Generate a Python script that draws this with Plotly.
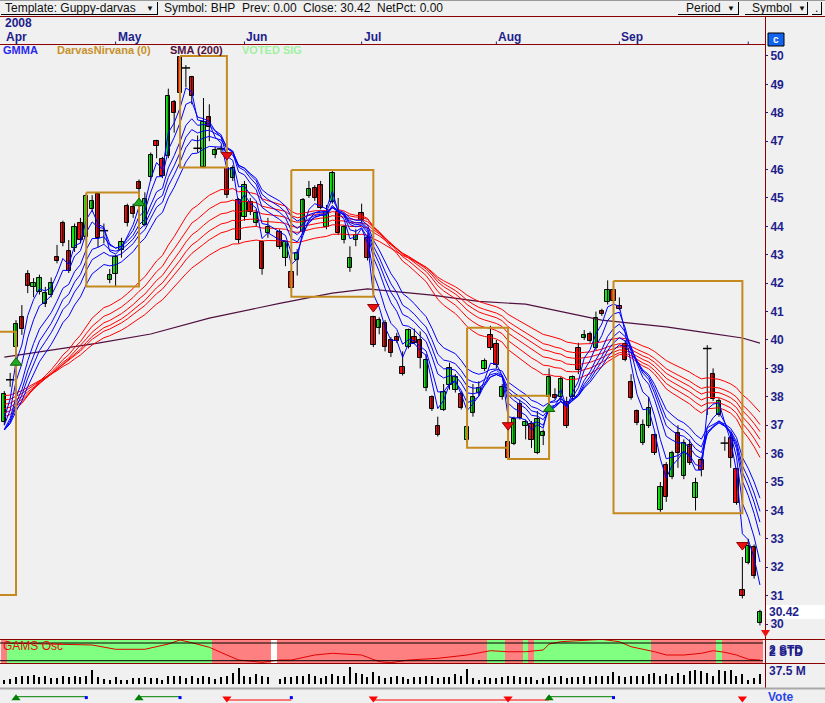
import plotly.graph_objects as go

# ---------------- DATA (daily bars, index 0..129; bar 46 is an empty day) ----------------
opens = [37.10, 38.60, 39.75, 40.80, 42.32, 41.87, 41.69, 41.27, 41.60, 42.92,
         44.12, 43.13, 43.24, 44.12, 43.63, 44.60, 45.14, 43.85, 42.11, 42.32,
         43.17, 44.72, 44.68, 45.56, 44.05, 45.74, 47.00, 46.37, 46.48, 48.38,
         49.96, 49.58, 49.26, 46.75, 46.09, 47.85, 46.51, 46.73, 46.05, 45.70,
         44.93, 44.33, 44.86, 44.12, 43.45, 43.77, None, 43.80, 42.89, 42.39,
         42.82, 43.80, 45.07, 45.35, 45.46, 43.98, 44.86, 44.50, 43.52, 42.54,
         43.52, 44.47, 43.59, 40.81, 40.42, 40.60, 40.00, 40.10, 39.05, 39.75,
         40.10, 40.00, 38.31, 37.99, 36.97, 37.54, 38.42, 38.24, 38.10, 36.48,
         37.43, 38.13, 38.98, 40.18, 39.86, 37.99, 36.40, 36.34, 37.75, 36.97,
         37.04, 36.02, 36.62, 37.99, 38.06, 37.99, 37.82, 37.99, 39.72, 40.07,
         40.21, 39.72, 41.02, 41.34, 41.76, 41.20, 39.86, 38.52, 37.50, 36.37,
         36.97, 36.65, 34.01, 35.60, 35.18, 36.73, 35.21, 36.30, 34.44, 35.77,
         39.70, 38.80, 37.36, 36.37, 36.55, 35.46, 31.20, 32.15, 32.71, 30.05]
highs = [38.20, 38.84, 40.70, 41.23, 42.46, 42.18, 42.30, 41.87, 42.20, 43.35,
         44.20, 43.52, 44.10, 44.30, 45.15, 45.10, 45.20, 44.10, 42.50, 43.00,
         43.60, 44.80, 44.80, 45.65, 45.20, 46.60, 47.05, 46.45, 48.85, 48.45,
         50.00, 49.68, 49.30, 47.20, 48.52, 48.30, 46.80, 46.85, 46.20, 46.15,
         45.00, 45.60, 45.00, 44.60, 43.50, 44.30, None, 43.90, 43.50, 42.50,
         43.20, 45.00, 45.60, 45.45, 45.60, 44.75, 45.95, 45.00, 44.05, 43.30,
         43.90, 44.80, 43.70, 40.85, 40.80, 40.70, 40.10, 40.25, 39.60, 40.40,
         40.40, 40.30, 39.50, 38.05, 37.30, 38.45, 39.20, 38.80, 38.20, 37.00,
         38.45, 38.55, 39.35, 40.50, 40.00, 38.45, 36.50, 37.30, 37.90, 37.20,
         37.15, 37.50, 36.85, 39.00, 38.30, 38.70, 38.00, 38.75, 39.90, 40.35,
         40.30, 41.00, 41.10, 42.10, 41.80, 41.50, 40.00, 38.80, 37.55, 37.20,
         38.00, 36.70, 35.00, 35.70, 36.10, 37.00, 36.50, 36.50, 35.15, 35.85,
         39.82, 39.00, 37.95, 36.60, 36.70, 35.50, 32.36, 33.00, 32.80, 30.50]
lows = [37.00, 38.35, 39.60, 40.18, 41.65, 41.51, 41.60, 41.16, 41.50, 42.70,
        43.30, 42.36, 43.10, 43.40, 43.50, 44.50, 43.27, 43.40, 42.00, 41.90,
        42.90, 44.00, 44.30, 45.20, 44.00, 45.60, 46.40, 45.70, 46.40, 47.30,
        48.65, 48.90, 48.30, 46.60, 46.05, 47.00, 46.40, 46.60, 45.00, 45.60,
        43.40, 44.20, 44.40, 44.00, 42.30, 43.60, None, 43.20, 42.60, 41.75,
        42.27, 43.70, 45.00, 44.90, 44.60, 43.90, 44.80, 43.70, 43.40, 42.40,
        43.30, 44.10, 42.80, 39.75, 40.20, 39.60, 39.40, 39.90, 38.75, 39.70,
        39.85, 39.00, 38.20, 37.50, 36.60, 37.50, 38.25, 38.15, 37.55, 36.40,
        37.30, 38.05, 38.90, 39.65, 39.00, 37.90, 35.80, 36.30, 37.20, 36.50,
        36.20, 35.98, 36.30, 37.90, 37.90, 37.85, 36.90, 37.90, 38.80, 40.00,
        39.90, 39.65, 40.85, 41.25, 41.30, 41.05, 39.25, 37.90, 37.00, 36.30,
        36.90, 35.95, 33.95, 34.30, 35.10, 35.50, 35.10, 35.60, 34.00, 35.20,
        37.36, 37.85, 37.30, 36.10, 35.50, 34.20, 30.90, 32.10, 31.60, 29.95]
closes = [38.10, 38.60, 40.56, 40.40, 41.90, 41.99, 42.18, 41.65, 41.99, 42.78,
          43.42, 42.43, 43.98, 43.52, 45.07, 44.90, 43.59, 43.85, 42.29, 42.92,
          43.45, 44.12, 44.44, 45.32, 44.96, 46.51, 46.83, 45.77, 48.59, 47.99,
          48.70, 49.58, 48.60, 46.75, 47.68, 47.50, 46.69, 46.73, 45.10, 46.05,
          43.52, 45.46, 44.51, 44.47, 42.50, 43.98, None, 43.27, 43.45, 41.83,
          43.06, 44.93, 45.30, 45.00, 44.65, 44.50, 45.88, 43.77, 43.98, 42.89,
          43.70, 44.22, 42.89, 39.82, 40.70, 39.75, 39.54, 39.96, 38.80, 40.35,
          39.89, 39.37, 39.30, 37.57, 36.65, 38.17, 39.01, 38.70, 37.61, 36.94,
          37.99, 38.31, 39.26, 39.72, 39.12, 38.34, 35.85, 37.22, 37.25, 37.11,
          36.48, 37.22, 36.76, 38.70, 37.96, 38.63, 36.97, 38.70, 38.94, 40.18,
          39.96, 40.77, 40.91, 41.76, 41.37, 41.10, 39.30, 37.96, 37.08, 37.00,
          37.60, 36.02, 34.82, 34.47, 36.02, 36.02, 36.37, 35.67, 34.96, 35.42,
          39.70, 37.92, 37.85, 36.37, 35.84, 34.26, 31.00, 32.75, 31.69, 30.42]
volume_m = [8.1, 10.3, 13.9, 17.6, 17.6, 19.8, 13.9, 17.6, 12.5, 12.5,
            17.6, 13.9, 17.6, 13.9, 17.6, 30.1, 13.9, 10.3, 8.1, 13.9,
            8.1, 8.1, 12.5, 12.5, 13.9, 12.5, 12.5, 8.1, 17.6, 17.6,
            17.6, 12.5, 17.6, 12.5, 17.6, 13.9, 10.3, 13.9, 17.6, 22.7,
            33.7, 17.6, 13.9, 21.3, 17.6, 13.9, None, 10.3, 13.9, 13.9,
            17.6, 17.6, 21.3, 17.6, 12.5, 17.6, 21.3, 17.6, 17.6, 37.4,
            22.7, 21.3, 13.9, 24.9, 17.6, 12.5, 13.9, 17.6, 13.9, 10.3,
            13.9, 13.9, 17.6, 17.6, 12.5, 13.9, 13.9, 21.3, 17.6, 32.3,
            12.5, 8.1, 13.9, 12.5, 12.5, 13.9, 17.6, 17.6, 13.9, 13.9,
            13.9, 8.1, 12.5, 17.6, 13.9, 17.6, 12.5, 13.9, 13.9, 17.6,
            13.9, 17.6, 17.6, 17.6, 24.9, 17.6, 13.9, 17.6, 17.6, 17.6,
            21.3, 22.7, 17.6, 21.3, 17.6, 22.7, 19.8, 27.1, 30.1, 28.6,
            22.7, 17.6, 30.1, 28.6, 30.1, 17.6, 21.3, 8.1, 12.5, 21.3]

month_labels = ["Apr", "May", "Jun", "Jul", "Aug", "Sep", ""]
month_start_idx = [0, 19, 41, 61, 84, 105, 127]
price_ticks = list(range(30, 51))

# GMMA (Guppy multiple moving averages) periods and their values entering the window
gmma_short_periods = [3, 5, 8, 10, 12, 15]
gmma_short_start = [36.40, 36.45, 36.50, 36.55, 36.60, 36.65]
gmma_long_periods = [30, 35, 40, 45, 50, 60]
gmma_long_start = [37.24, 37.40, 37.56, 37.72, 37.88, 38.04]

# SMA(200)
sma_idx = [0, 11, 16, 25, 35, 47, 56, 62, 73, 81, 89, 102, 113, 120, 126, 129]
sma_val = [39.40, 39.75, 39.89, 40.21, 40.77, 41.29, 41.65, 41.80, 41.58, 41.36,
           41.26, 40.70, 40.46, 40.25, 40.07, 39.89]

# Darvas boxes: (start bar, end bar, top, bottom)
box_start = [-3, 14, 30, 49, 79, 86, 104]
box_end = [2, 23, 38, 63, 86, 93, 126]
box_top = [40.29, 45.19, 50.00, 45.99, 40.43, 38.04, 42.08]
box_bottom = [31.02, 41.88, 46.07, 41.52, 36.21, 35.81, 33.90]

# Voted signals on the price chart
buy_idx = [2, 23, 93]
buy_price = [39.20, 44.82, 37.57]
sell_idx = [38, 63, 86, 126]
sell_price = [46.51, 41.16, 37.00, 32.78]

# Vote strip: (from bar, to bar, side)
vote_from = [2, 23, 38, 63, 93]
vote_to = [14, 30, 49, 93, 104]
vote_side = ["buy", "buy", "sell", "sell", "buy"]
vote_extra_sell = [86, 126]

# GAMS oscillator (std units) and its state runs
osc_idx = [0, 5, 11, 15, 19, 24, 28, 30, 32, 35, 38, 40, 44, 45, 47, 49, 53, 56, 61, 64,
           66, 69, 71, 74, 79, 83, 86, 89, 92, 93, 95, 99, 102, 105, 107, 111, 113, 116,
           119, 121, 123, 125, 127, 129]
osc_val = [2.0, 1.9, 1.77, 1.55, 0.58, 0.58, 1.77, 2.67, 2.07, 1.03, -0.71, -1.84, -2.36,
           -2.22, -1.84, -1.84, -0.71, -0.33, -0.71, -2.22, -2.45, -1.84, -1.68, -1.46,
           -0.71, 0.26, 0.03, 0.03, 0.42, 1.77, 2.29, 2.52, 2.83, 2.29, 1.16, 0.03, -0.71,
           -0.71, -0.33, 0.26, -0.10, -0.71, -1.68, -1.84]
osc_bands = [2, -2]
gams_state = ["R", "G", "R", "N", "R", "G", "R", "G", "R", "G", "R", "G", "R"]
gams_from = [0, 1, 36, 46, 47, 83, 86, 89, 90, 91, 111, 122, 123]
gams_to = [0, 35, 45, 46, 82, 85, 88, 89, 90, 110, 121, 122, 129]

# ---------------- STYLE / LAYOUT CONSTANTS ----------------
W, H = 825, 703
NAVY = "#1e1e8c"
DKRED = "#8b0000"
FONT = "Liberation Sans"
X_MIN, X_MAX = -0.734, 129.86
P_MIN, P_MAX = 29.507, 50.387
OSC_MIN, OSC_MAX = -2.63, 2.79
VOL_MIN, VOL_MAX = -11.0, 40.7


def fx(px):
    return px / W


def fy(py):
    return 1 - py / H


bars = [i for i in range(len(closes)) if closes[i] is not None]

fig = go.Figure()

# ---- GAMS oscillator panel ----
state_color = {"G": "#80ff80", "R": "#ff8080", "N": "#ffffff"}
gx, gc = [], []
for st, a, b in zip(gams_state, gams_from, gams_to):
    for i in range(a, b + 1):
        gx.append(i)
        gc.append(state_color[st])
fig.add_trace(go.Bar(x=gx, y=[OSC_MAX - OSC_MIN] * len(gx), base=OSC_MIN, width=1.04,
                     marker=dict(color=gc, line=dict(width=0)), xaxis="x", yaxis="y2",
                     hoverinfo="skip"))
fig.add_trace(go.Scatter(x=osc_idx, y=osc_val, mode="lines", line=dict(color="#e00000", width=1),
                         xaxis="x", yaxis="y2", hoverinfo="skip"))

# ---- Volume panel ----
fig.add_trace(go.Bar(x=bars, y=[volume_m[i] for i in bars], width=0.19,
                     marker=dict(color="#000000", line=dict(width=0)), xaxis="x", yaxis="y3",
                     hoverinfo="skip"))

# ---- Vote panel ----
for a, b, side in zip(vote_from, vote_to, vote_side):
    col = "#008000" if side == "buy" else "#ff0000"
    lvl = 6.3 if side == "buy" else 3.0
    fig.add_trace(go.Scatter(x=[a, b], y=[lvl, lvl], mode="lines", line=dict(color=col, width=1),
                             xaxis="x", yaxis="y4", hoverinfo="skip"))
    fig.add_trace(go.Scatter(x=[b], y=[5.4], mode="markers",
                             marker=dict(symbol="square", size=3, color="#0000ff"),
                             xaxis="x", yaxis="y4", hoverinfo="skip"))
vb = [a for a, s in zip(vote_from, vote_side) if s == "buy"]
vs = [a for a, s in zip(vote_from, vote_side) if s == "sell"] + vote_extra_sell
fig.add_trace(go.Scatter(x=vb, y=[4.8] * len(vb), mode="markers",
                         marker=dict(symbol="triangle-up", size=8, color="#008000"),
                         xaxis="x", yaxis="y4", hoverinfo="skip", cliponaxis=False))
fig.add_trace(go.Scatter(x=vs, y=[4.4] * len(vs), mode="markers",
                         marker=dict(symbol="triangle-down", size=8, color="#ff0000"),
                         xaxis="x", yaxis="y4", hoverinfo="skip", cliponaxis=False))

# ---- Price: wicks ----
wx, wy = [], []
for i in bars:
    wx += [i, i, None]
    wy += [lows[i], highs[i], None]
fig.add_trace(go.Scatter(x=wx, y=wy, mode="lines", line=dict(color="#000000", width=1),
                         hoverinfo="skip"))

# ---- Price: bodies ----
up = [i for i in bars if closes[i] > opens[i]]
dn = [i for i in bars if closes[i] < opens[i]]
dj = [i for i in bars if closes[i] == opens[i]]
for idx, col in ((up, "#14e614"), (dn, "#f01010")):
    fig.add_trace(go.Bar(x=idx, y=[abs(closes[i] - opens[i]) for i in idx],
                         base=[min(opens[i], closes[i]) for i in idx], width=0.74,
                         marker=dict(color=col, line=dict(color="#000000", width=1)),
                         hoverinfo="skip"))
fig.add_trace(go.Scatter(x=dj, y=[closes[i] for i in dj], mode="markers",
                         marker=dict(symbol="line-ew", size=6, line=dict(color="#000000", width=1.5)),
                         hoverinfo="skip"))

# ---- SMA(200) ----
fig.add_trace(go.Scatter(x=sma_idx, y=sma_val, mode="lines", line=dict(color="#501040", width=1.2),
                         hoverinfo="skip"))


# ---- GMMA ----
def ema_series(period, start):
    k = 2.0 / (period + 1)
    prev, out = start, []
    for i in bars:
        prev = prev + k * (closes[i] - prev)
        out.append(prev)
    return out


for p, s in zip(gmma_long_periods, gmma_long_start):
    fig.add_trace(go.Scatter(x=bars, y=ema_series(p, s), mode="lines",
                             line=dict(color="#ff0000", width=1), hoverinfo="skip"))
for p, s in zip(gmma_short_periods, gmma_short_start):
    fig.add_trace(go.Scatter(x=bars, y=ema_series(p, s), mode="lines",
                             line=dict(color="#0000ff", width=1), hoverinfo="skip"))

# ---- Darvas boxes ----
for a, b, t, btm in zip(box_start, box_end, box_top, box_bottom):
    fig.add_trace(go.Scatter(x=[a, b, b, a, a], y=[t, t, btm, btm, t], mode="lines",
                             line=dict(color="#c48a1e", width=2), hoverinfo="skip"))

# ---- Signals ----
fig.add_trace(go.Scatter(x=buy_idx, y=buy_price, mode="markers",
                         marker=dict(symbol="triangle-up", size=10, color="#22aa22",
                                     line=dict(color="#0a600a", width=1)), hoverinfo="skip"))
fig.add_trace(go.Scatter(x=sell_idx, y=sell_price, mode="markers",
                         marker=dict(symbol="triangle-down", size=10, color="#ee1010",
                                     line=dict(color="#900000", width=1)), hoverinfo="skip"))

# ---------------- decorations ----------------
shapes = []
ann = []


def hline(y, x0, x1, color, width=1):
    shapes.append(dict(type="line", xref="paper", yref="paper", x0=fx(x0), x1=fx(x1),
                       y0=fy(y), y1=fy(y), line=dict(color=color, width=width)))


def vline(x, y0, y1, color, width=1):
    shapes.append(dict(type="line", xref="paper", yref="paper", x0=fx(x), x1=fx(x),
                       y0=fy(y0), y1=fy(y1), line=dict(color=color, width=width)))


def text(x, y, s, color="#101010", size=12, bold=False, anchor="left", bg=None):
    ann.append(dict(xref="paper", yref="paper", x=fx(x), y=fy(y), text=s, showarrow=False,
                    xanchor=anchor, yanchor="middle", borderpad=0,
                    font=dict(family=FONT, size=size, color=color,
                              weight="bold" if bold else "normal"),
                    bgcolor=bg))


# toolbar
hline(0.5, 0, 825, "#9a9a9a")
hline(14.5, 1, 158, "#000000")
vline(157.5, 2, 15, "#000000")
for x0, x1 in ((678, 739), (745, 808), (812, 822)):
    hline(14.5, x0, x1, "#000000")
    vline(x1 - 0.5, 2, 15, "#000000")
hline(16.5, 0, 825, DKRED)
text(4, 8, "Template: Guppy-darvas", size=12)
text(145, 8, "▼", size=8)
text(163, 8, "Symbol: BHP", size=12)
text(241, 8, "Prev: 0.00", size=12)
text(302, 8, "Close: 30.42", size=12)
text(376, 8, "NetPct: 0.00", size=12)
text(685, 8, "Period", size=12)
text(726, 8, "▼", size=8)
text(751, 8, "Symbol", size=12)
text(797, 8, "▼", size=8)
text(814, 8, ".", size=12)

# date header
text(4, 23, "2008", color=NAVY, size=12, bold=True)
for lab, i in zip(month_labels, month_start_idx):
    ann.append(dict(xref="x", yref="paper", x=i, y=fy(37), text=lab, showarrow=False,
                    xanchor="left", yanchor="middle", xshift=0,
                    font=dict(family=FONT, size=12, color=NAVY, weight="bold")))
    if i > 0:
        shapes.append(dict(type="line", xref="x", yref="paper", x0=i, x1=i, y0=fy(44), y1=fy(41.5),
                           line=dict(color=NAVY, width=1)))
hline(44.5, 0, 765, DKRED)
vline(765.5, 16, 688, DKRED)

# legend row
text(2, 50, "GMMA", color="#2828f0", size=11, bold=True)
text(56, 50, "DarvasNirvana (0)", color="#c8902a", size=11, bold=True)
text(169, 50, "SMA (200)", color="#501040", size=11, bold=True)
text(241, 50, "VOTED SIG", color="#a0f0a0", size=11, bold=True)

# "c" button
shapes.append(dict(type="rect", xref="paper", yref="paper", x0=fx(768), x1=fx(784), y0=fy(46),
                   y1=fy(33), fillcolor="#1064f0", line=dict(color="#000000", width=1)))
text(776, 39.5, "c", color="#ffffff", size=10, bold=True, anchor="center")

# last price box
shapes.append(dict(type="rect", xref="paper", yref="paper", x0=fx(766), x1=fx(825), y0=fy(619),
                   y1=fy(605), fillcolor="#ffffff", line=dict(width=0)))
text(768, 612, "30.42", color=NAVY, size=12, bold=True)

# current-bar marker
shapes.append(dict(type="path", xref="paper", yref="paper",
                   path=f"M {fx(761)} {fy(630)} L {fx(770)} {fy(630)} L {fx(765.5)} {fy(637)} Z",
                   fillcolor="#ee1010", line=dict(width=0)))

# GAMS panel frame
hline(639.5, 0, 825, DKRED)
hline(663.5, 0, 825, DKRED)
for lv in osc_bands:
    shapes.append(dict(type="line", xref="x", yref="y2", x0=X_MIN, x1=129.5, y0=lv, y1=lv,
                       line=dict(color="#000000", width=1)))
text(2, 646, "GAMS Osc", color="#e01010", size=12)
text(768, 652, "2 STD", color=NAVY, size=12, bold=True)
text(768, 650, "2 STD", color=NAVY, size=12, bold=True)

# volume + vote
text(768, 671, "37.5 M", color=NAVY, size=12, bold=True)
hline(688.5, 0, 825, "#a8a8a8", 2)
text(767, 697, "Vote", color="#2846e6", size=12, bold=True)

fig.update_layout(
    width=W, height=H, margin=dict(l=0, r=0, t=0, b=0),
    paper_bgcolor="#f0f0f0", plot_bgcolor="rgba(0,0,0,0)",
    showlegend=False, barmode="overlay", bargap=0,
    shapes=shapes, annotations=ann,
    xaxis=dict(domain=[0, 765 / W], range=[X_MIN, X_MAX], visible=False, fixedrange=True),
    yaxis=dict(domain=[fy(638), fy(45)], range=[P_MIN, P_MAX], side="right", anchor="x",
               tickvals=price_ticks, ticks="outside", ticklen=2, tickcolor=NAVY,
               tickfont=dict(family=FONT, size=12, color=NAVY, weight="bold"),
               showgrid=False, zeroline=False, showline=False, fixedrange=True),
    yaxis2=dict(domain=[fy(663.5), fy(639.5)], range=[OSC_MIN, OSC_MAX], anchor="x", visible=False,
                fixedrange=True),
    yaxis3=dict(domain=[fy(688), fy(664.5)], range=[VOL_MIN, VOL_MAX], anchor="x", visible=False,
                fixedrange=True),
    yaxis4=dict(domain=[0, fy(689)], range=[0, 14], anchor="x", visible=False, fixedrange=True),
)

fig.write_html("out.html", config={"displayModeBar": False},
               post_script="document.body.style.margin='0';document.body.style.background='#f0f0f0';"
                           "document.body.style.overflow='hidden';")
